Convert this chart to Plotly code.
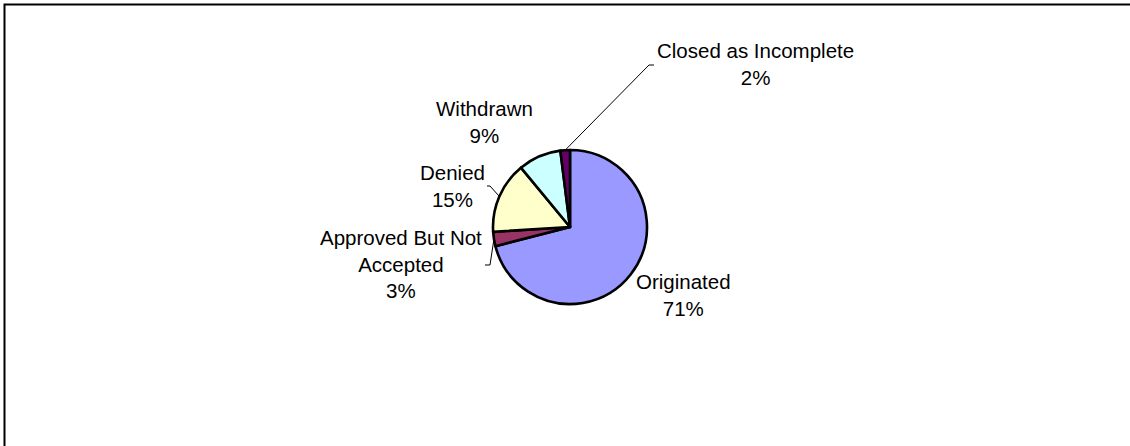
import math
import plotly.graph_objects as go

# Loan application outcomes
labels = ["Originated", "Approved But Not Accepted", "Denied", "Withdrawn", "Closed as Incomplete"]
label_text = ["Originated", "Approved But Not<br>Accepted", "Denied", "Withdrawn", "Closed as Incomplete"]
shares = [71, 3, 15, 9, 2]
colors = ["#9999FF", "#993366", "#FFFFCC", "#CCFFFF", "#660066"]

W, H = 1130, 446
CX, CY, R = 570, 227, 77
FONT = dict(family="Arial, Liberation Sans, sans-serif", size=20.5, color="black")

# label block centres (pixels)
label_pos = {
    "Originated": (683, 295),
    "Approved But Not Accepted": (401, 264),
    "Denied": (452, 186),
    "Withdrawn": (484, 122),
    "Closed as Incomplete": (755, 64),
}
# leader line elbows (pixels), from the label side toward the slice
leader_elbows = {
    "Closed as Incomplete": [(654, 65), (649, 65)],
    "Denied": [(487, 186), (490, 186)],
    "Approved But Not Accepted": [(485, 265), (490, 265)],
}


def px(x, y):
    return x / W, 1 - y / H


fig = go.Figure(
    go.Pie(
        labels=labels,
        values=shares,
        sort=False,
        direction="clockwise",
        rotation=0,
        marker=dict(colors=colors, line=dict(color="black", width=2.6)),
        textinfo="none",
        hoverinfo="label+percent",
        showlegend=False,
        domain=dict(x=[(CX - R) / W, (CX + R) / W], y=[1 - (CY + R) / H, 1 - (CY - R) / H]),
    )
)

total = sum(shares)
annotations = []
shapes = []
cum = 0
for lab, txt, v in zip(labels, label_text, shares):
    mid = 2 * math.pi * (cum + v / 2) / total
    cum += v
    pct = round(100 * v / total)
    lx, ly = label_pos[lab]
    ax, ay = px(lx, ly)
    annotations.append(
        dict(x=ax, y=ay, xref="paper", yref="paper", text=f"{txt}<br>{pct}%",
             showarrow=False, xanchor="center", yanchor="middle", align="center", font=FONT)
    )
    if lab in leader_elbows:
        ex, ey = CX + R * math.sin(mid), CY - R * math.cos(mid)
        pts = leader_elbows[lab] + [(ex, ey)]
        path = "M " + " L ".join(f"{px(x, y)[0]:.5f},{px(x, y)[1]:.5f}" for x, y in pts)
        shapes.append(dict(type="path", xref="paper", yref="paper", path=path,
                           line=dict(color="black", width=1)))

# chart area frame (top and left edges visible)
frame = "M " + " L ".join(f"{px(x, y)[0]:.5f},{px(x, y)[1]:.5f}" for x, y in [(4.5, 446), (4.5, 4.5), (1130, 4.5)])
shapes.append(dict(type="path", xref="paper", yref="paper", path=frame, line=dict(color="black", width=2)))

fig.update_layout(
    width=W,
    height=H,
    margin=dict(l=0, r=0, t=0, b=0),
    paper_bgcolor="white",
    plot_bgcolor="white",
    annotations=annotations,
    shapes=shapes,
)

fig.write_html("out.html")
